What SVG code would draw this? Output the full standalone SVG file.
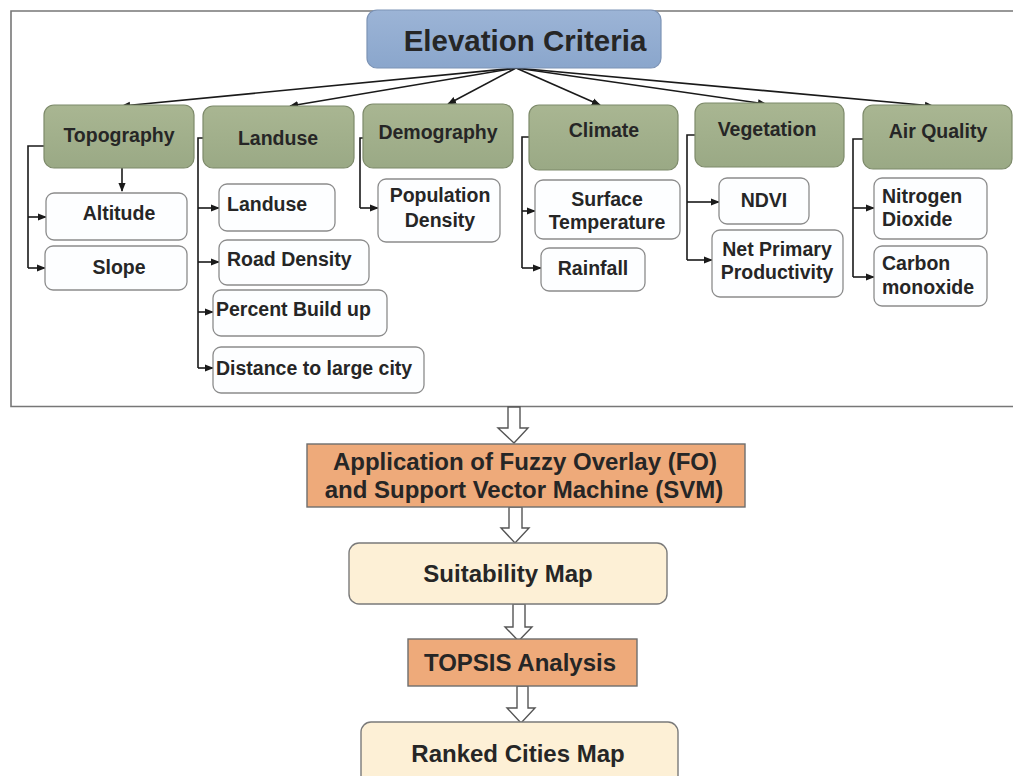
<svg xmlns="http://www.w3.org/2000/svg" width="1013" height="776" viewBox="0 0 1013 776">
<defs>
<linearGradient id="gBlue" x1="0" y1="0" x2="0" y2="1"><stop offset="0" stop-color="#9cb4d6"/><stop offset="1" stop-color="#8aa6cc"/></linearGradient>
<linearGradient id="gGreen" x1="0" y1="0" x2="0" y2="1"><stop offset="0" stop-color="#a9b692"/><stop offset="1" stop-color="#9aa985"/></linearGradient>
<marker id="ah" viewBox="0 0 10 10" refX="9" refY="5" markerWidth="9" markerHeight="9" markerUnits="userSpaceOnUse" orient="auto"><path d="M0,1 L10,5 L0,9 Z" fill="#1a1a1a"/></marker>
<style>
text{font-family:"Liberation Sans",Arial,sans-serif;font-weight:bold;fill:#262626;}
.cat{fill:url(#gGreen);stroke:#7d8a6a;stroke-width:1.2;}
.sub{fill:#fdfeff;stroke:#8c8c8c;stroke-width:1.3;}
.c{font-size:19.5px;text-anchor:middle;}
.s{font-size:19.5px;}
.b{font-size:24px;text-anchor:middle;}
.ln{fill:none;stroke:#1a1a1a;stroke-width:1.6;}
.hol{fill:#ffffff;stroke:#555555;stroke-width:1.4;stroke-linejoin:miter;}
.org{fill:#eeaa7a;stroke:#6e6e6e;stroke-width:1.4;}
.crm{fill:#fdf0d6;stroke:#7a7a7a;stroke-width:1.4;}
</style>
</defs>
<rect width="1013" height="776" fill="#ffffff"/>
<g id="frame"><path d="M1013,11 H11 V406.5 H1013" fill="none" stroke="#777" stroke-width="1.6"/></g>

<g id="connectors">
<line class="ln" x1="516" y1="68" x2="122" y2="106" marker-end="url(#ah)"/>
<line class="ln" x1="516" y1="68" x2="290" y2="106" marker-end="url(#ah)"/>
<line class="ln" x1="516" y1="68" x2="448" y2="104" marker-end="url(#ah)"/>
<line class="ln" x1="516" y1="68" x2="600" y2="105" marker-end="url(#ah)"/>
<line class="ln" x1="516" y1="68" x2="766" y2="104" marker-end="url(#ah)"/>
<line class="ln" x1="516" y1="68" x2="933" y2="106" marker-end="url(#ah)"/>
<line class="ln" x1="122" y1="168" x2="122" y2="191" marker-end="url(#ah)"/>
<path class="ln" d="M44,146 H28 V268"/>
<line class="ln" x1="28" y1="217" x2="46" y2="217" marker-end="url(#ah)"/>
<line class="ln" x1="28" y1="268" x2="45" y2="268" marker-end="url(#ah)"/>
<path class="ln" d="M203,138 H198 V368"/>
<line class="ln" x1="198" y1="208" x2="219" y2="208" marker-end="url(#ah)"/>
<line class="ln" x1="198" y1="262" x2="219" y2="262" marker-end="url(#ah)"/>
<line class="ln" x1="198" y1="312" x2="213" y2="312" marker-end="url(#ah)"/>
<line class="ln" x1="198" y1="368" x2="213" y2="368" marker-end="url(#ah)"/>
<path class="ln" d="M363,138 H360 V208"/>
<line class="ln" x1="360" y1="208" x2="378" y2="208" marker-end="url(#ah)"/>
<path class="ln" d="M529,137 H522 V268"/>
<line class="ln" x1="522" y1="211" x2="535" y2="211" marker-end="url(#ah)"/>
<line class="ln" x1="522" y1="268" x2="541" y2="268" marker-end="url(#ah)"/>
<path class="ln" d="M695,135 H687 V260"/>
<line class="ln" x1="687" y1="202" x2="719" y2="202" marker-end="url(#ah)"/>
<line class="ln" x1="687" y1="260" x2="712" y2="260" marker-end="url(#ah)"/>
<path class="ln" d="M863,139 H853 V277"/>
<line class="ln" x1="853" y1="208" x2="874" y2="208" marker-end="url(#ah)"/>
<line class="ln" x1="853" y1="277" x2="874" y2="277" marker-end="url(#ah)"/>
<path class="hol" d="M508,407 H520 V428 H528 L514,443 L498,428 H508 Z"/>
<path class="hol" d="M509,507 H522 V528 H529 L515,543 L501,528 H509 Z"/>
<path class="hol" d="M513,604 H525 V627 H532 L518.5,641 L505,627 H513 Z"/>
<path class="hol" d="M517,686 H528 V708 H535 L521,723 L507,708 H517 Z"/>
</g>

<g id="elevation-criteria">
<rect x="367" y="10" width="294" height="58" rx="10" fill="url(#gBlue)" stroke="#7c93b5" stroke-width="1.2"/>
<text x="525" y="51" font-size="29.5" text-anchor="middle">Elevation Criteria</text>
</g>

<g id="topography"><rect class="cat" x="44" y="105" width="150" height="63" rx="10"/><text class="c" x="119" y="142">Topography</text></g>
<g id="landuse-cat"><rect class="cat" x="203" y="106" width="151" height="62" rx="10"/><text class="c" x="278" y="145">Landuse</text></g>
<g id="demography"><rect class="cat" x="363" y="104" width="150" height="64" rx="10"/><text class="c" x="438" y="139">Demography</text></g>
<g id="climate"><rect class="cat" x="529" y="105" width="149" height="65" rx="10"/><text class="c" x="604" y="137">Climate</text></g>
<g id="vegetation"><rect class="cat" x="695" y="103" width="149" height="64" rx="10"/><text class="c" x="767" y="136">Vegetation</text></g>
<g id="air-quality"><rect class="cat" x="863" y="105" width="149" height="64" rx="10"/><text class="c" x="938" y="138">Air Quality</text></g>

<g id="altitude"><rect class="sub" x="46" y="193" width="141" height="47" rx="8"/><text class="s" x="119" y="220" text-anchor="middle">Altitude</text></g>
<g id="slope"><rect class="sub" x="45" y="246" width="142" height="44" rx="8"/><text class="s" x="119" y="274" text-anchor="middle">Slope</text></g>

<g id="landuse-sub"><rect class="sub" x="219" y="184" width="116" height="47" rx="8"/><text class="s" x="227" y="211">Landuse</text></g>
<g id="road-density"><rect class="sub" x="219" y="240" width="150" height="45" rx="8"/><text class="s" x="227" y="266">Road Density</text></g>
<g id="percent-build-up"><rect class="sub" x="213" y="290" width="174" height="46" rx="8"/><text class="s" x="216" y="316">Percent Build up</text></g>
<g id="distance"><rect class="sub" x="213" y="347" width="211" height="46" rx="8"/><text class="s" x="216" y="375">Distance to large city</text></g>

<g id="population-density"><rect class="sub" x="378" y="179" width="122" height="63" rx="8"/><text class="s" x="440" y="202" text-anchor="middle">Population</text><text class="s" x="440" y="227" text-anchor="middle">Density</text></g>

<g id="surface-temperature"><rect class="sub" x="535" y="180" width="145" height="59" rx="8"/><text class="s" x="607" y="206" text-anchor="middle">Surface</text><text class="s" x="607" y="229" text-anchor="middle">Temperature</text></g>
<g id="rainfall"><rect class="sub" x="541" y="248" width="104" height="43" rx="8"/><text class="s" x="593" y="275" text-anchor="middle">Rainfall</text></g>

<g id="ndvi"><rect class="sub" x="719" y="178" width="90" height="46" rx="8"/><text class="s" x="764" y="207" text-anchor="middle">NDVI</text></g>
<g id="npp"><rect class="sub" x="712" y="230" width="131" height="67" rx="8"/><text class="s" x="777" y="256" text-anchor="middle">Net Primary</text><text class="s" x="777" y="279" text-anchor="middle">Productivity</text></g>

<g id="nitrogen-dioxide"><rect class="sub" x="874" y="178" width="113" height="61" rx="8"/><text class="s" x="882" y="203">Nitrogen</text><text class="s" x="882" y="226">Dioxide</text></g>
<g id="carbon-monoxide"><rect class="sub" x="874" y="246" width="113" height="60" rx="8"/><text class="s" x="882" y="270">Carbon</text><text class="s" x="882" y="294">monoxide</text></g>

<g id="fuzzy-svm"><rect class="org" x="307" y="444" width="438" height="63"/><text class="b" x="525" y="470">Application of Fuzzy Overlay (FO)</text><text class="b" x="524" y="498">and Support Vector Machine (SVM)</text></g>
<g id="suitability-map"><rect class="crm" x="349" y="543" width="318" height="61" rx="10"/><text class="b" x="508" y="582">Suitability Map</text></g>
<g id="topsis"><rect class="org" x="408" y="639" width="229" height="47"/><text class="b" x="520" y="671">TOPSIS Analysis</text></g>
<g id="ranked-cities"><rect class="crm" x="361" y="722" width="317" height="70" rx="10"/><text class="b" x="518" y="762">Ranked Cities Map</text></g>
</svg>
